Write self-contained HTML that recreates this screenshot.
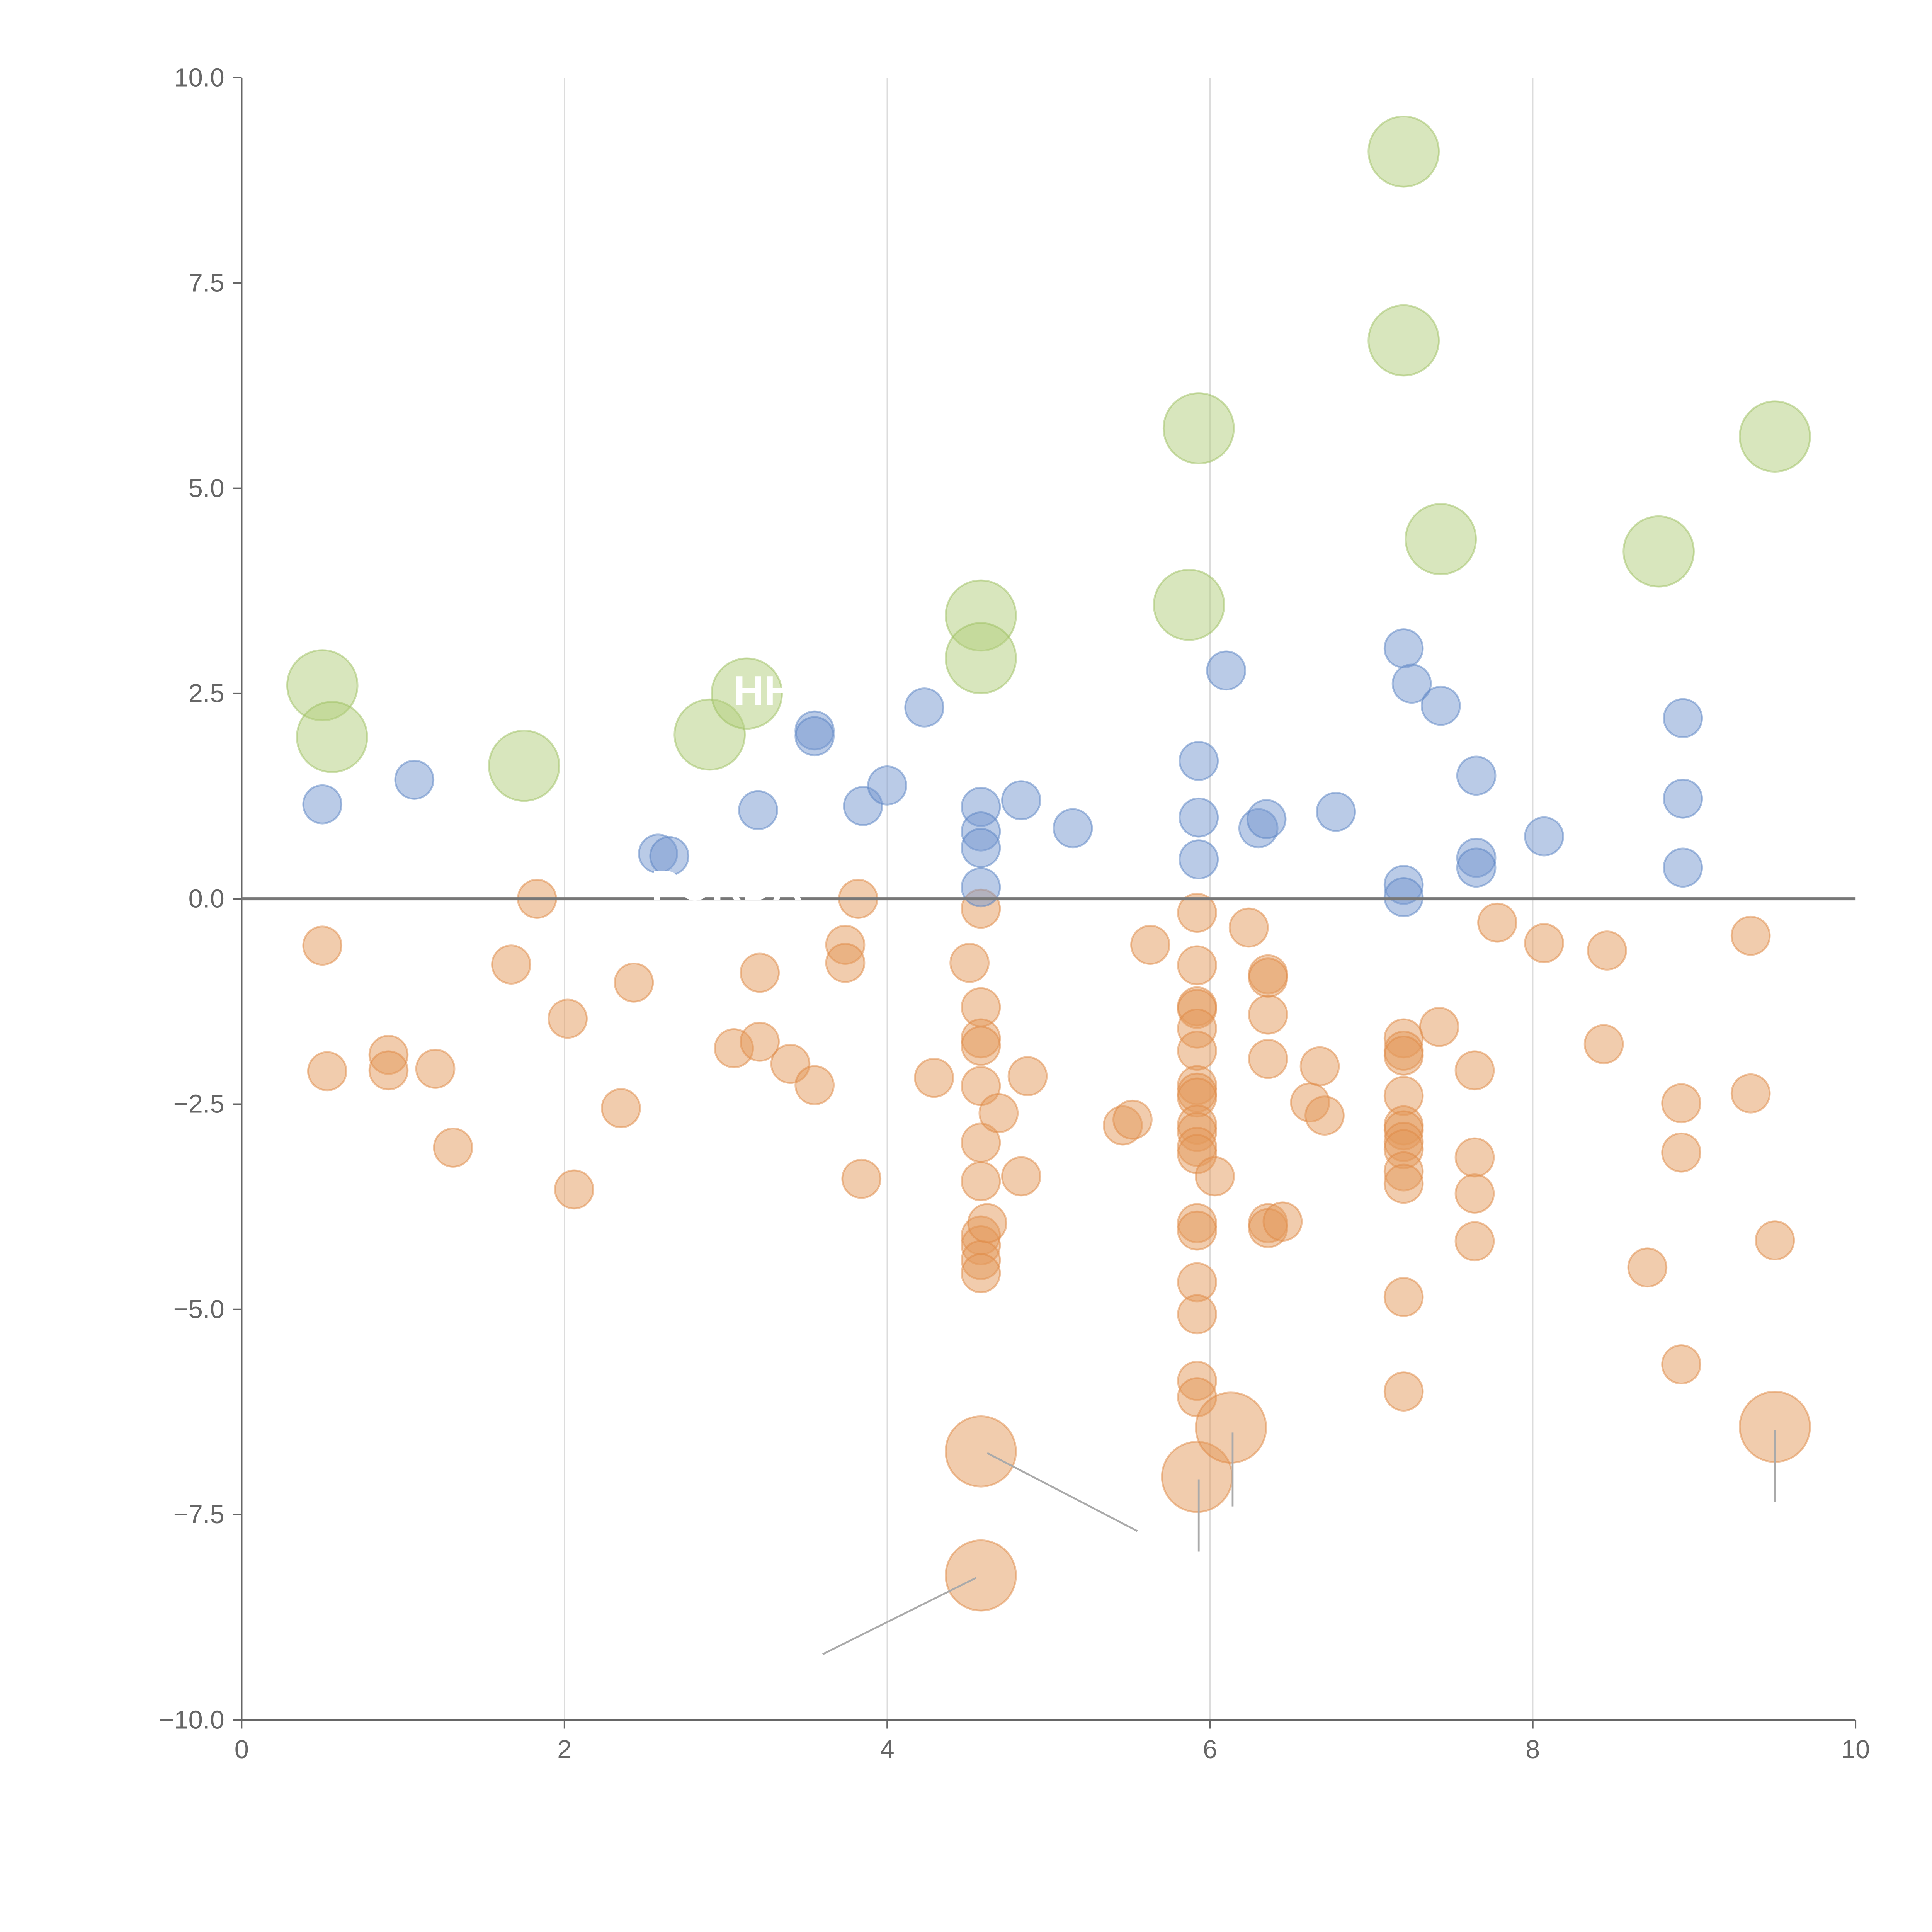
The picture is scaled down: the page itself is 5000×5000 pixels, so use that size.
<!DOCTYPE html>
<html><head><meta charset="utf-8"><style>
html,body{margin:0;padding:0;background:#fff}
svg{display:block}
text{font-family:"Liberation Sans",sans-serif}
</style></head><body>
<svg id="chart" width="5000" height="5000" viewBox="0 0 1567 1567" xmlns="http://www.w3.org/2000/svg">
<g id="grid"></g>
<g id="axes"></g>
<g id="marks"></g>
<g id="labels"></g>
</svg>
<script>
const xTicks=[0,2,4,6,8,10];
const yTicks=[-10,-7.5,-5,-2.5,0,2.5,5,7.5,10];
const yTickLabels=["\u221210.0","\u22127.5","\u22125.0","\u22122.5","0.0","2.5","5.0","7.5","10.0"];
const blueX=[0.5,1.07,2.58,2.65,3.2,3.55,3.55,3.85,4.0,4.23,4.58,4.58,4.58,4.58,4.83,5.15,5.93,5.93,5.93,6.1,6.3,6.35,6.78,7.2,7.25,7.2,7.2,7.43,7.65,7.65,7.65,8.07,8.93,8.93,8.93];
const blueY=[1.15,1.45,0.55,0.52,1.08,2.05,1.98,1.13,1.38,2.33,1.12,0.82,0.62,0.14,1.2,0.86,1.68,0.99,0.48,2.78,0.86,0.97,1.06,3.05,2.62,0.17,0.02,2.35,1.5,0.5,0.38,0.76,2.2,1.22,0.38];
const greenX=[0.5,0.56,1.75,2.9,3.13,4.58,4.58,5.87,5.93,7.2,7.2,7.43,8.78,9.5];
const greenY=[2.6,1.97,1.62,2.0,2.5,3.45,2.93,3.58,5.73,9.1,6.8,4.38,4.23,5.63];
const orangeX=[0.5,0.53,0.91,0.91,1.2,1.31,1.67,1.83,2.02,2.06,2.35,2.43,3.05,3.21,3.21,3.4,3.55,3.74,3.74,3.82,3.84,4.29,4.51,4.58,4.58,4.58,4.58,4.58,4.58,4.58,4.58,4.58,4.58,4.58,4.62,4.69,4.83,4.87,5.46,5.52,5.63,5.92,5.92,5.92,5.92,5.92,5.92,5.92,5.92,5.92,5.92,5.92,5.92,5.92,5.92,5.92,5.92,5.92,5.92,5.92,6.03,6.24,6.36,6.36,6.36,6.36,6.36,6.36,6.45,6.62,6.68,6.71,7.2,7.2,7.2,7.2,7.2,7.2,7.2,7.2,7.2,7.2,7.2,7.2,7.42,7.64,7.64,7.64,7.64,7.78,8.07,8.46,8.44,8.71,8.92,8.92,8.92,9.35,9.35,9.5];
const orangeY=[-0.57,-2.1,-1.9,-2.09,-2.07,-3.03,-0.8,0,-1.46,-3.54,-2.55,-1.02,-1.82,-0.9,-1.74,-2.01,-2.27,-0.56,-0.78,0,-3.41,-2.18,-0.78,-0.12,-1.32,-1.7,-1.79,-2.28,-2.97,-3.44,-4.1,-4.22,-4.4,-4.56,-3.95,-2.61,-3.38,-2.16,-2.76,-2.69,-0.56,-0.17,-0.81,-1.31,-1.34,-1.58,-1.85,-2.27,-2.36,-2.42,-2.75,-2.84,-3.02,-3.11,-3.95,-4.04,-4.67,-5.06,-5.87,-6.07,-3.38,-0.35,-0.92,-0.96,-1.41,-1.95,-3.95,-4.01,-3.93,-2.48,-2.04,-2.64,-1.7,-1.85,-1.91,-2.4,-2.76,-2.82,-2.96,-3.05,-3.32,-3.47,-4.85,-6.0,-1.56,-2.09,-3.15,-3.59,-4.17,-0.29,-0.54,-0.63,-1.77,-4.49,-2.49,-3.09,-5.67,-0.45,-2.37,-4.16];
const bigOrangeX=[4.58,4.58,5.92,6.13,9.5];
const bigOrangeY=[-6.73,-8.24,-7.04,-6.44,-6.43];
const leaderFromX=[4.62,4.55,5.93,6.14,9.5];
const leaderFromY=[-6.75,-8.27,-7.07,-6.5,-6.47];
const leaderToX=[5.55,3.6,5.93,6.14,9.5];
const leaderToY=[-7.7,-9.2,-7.95,-7.4,-7.35];

const X0=196,X1=1505,Y0=1395,Y1=63;
const sx=v=>X0+(v-0)/(10-0)*(X1-X0);
const sy=v=>Y0-(v+10)/20*(Y0-Y1);
const NS="http://www.w3.org/2000/svg";
function mk(tag,parent,attrs){const e=document.createElementNS(NS,tag);for(const k in attrs)e.setAttribute(k,attrs[k]);parent.appendChild(e);return e;}
const grid=document.getElementById('grid'),axes=document.getElementById('axes'),marks=document.getElementById('marks'),labels=document.getElementById('labels');

xTicks.forEach(t=>{
  if(t>0&&t<10){const g=mk('line',grid,{x1:sx(t),x2:sx(t),y1:Y1,y2:Y0,stroke:'#dcdcdc','stroke-width':1});
  
  }
  const tk=mk('line',axes,{x1:sx(t),x2:sx(t),y1:Y0,y2:Y0+7,stroke:'#666','stroke-width':1.2});
  
  
  const tx=mk('text',axes,{x:sx(t),y:Y0+31,'text-anchor':'middle','font-size':21,fill:'#666'});
  tx.textContent=t;
  
  
});
yTicks.forEach((t,i)=>{
  const tk=mk('line',axes,{x1:X0-7,x2:X0,y1:sy(t),y2:sy(t),stroke:'#666','stroke-width':1.2});
  
  
  const tx=mk('text',axes,{x:X0-14,y:sy(t)+7,'text-anchor':'end','font-size':21,fill:'#666'});
  tx.textContent=yTickLabels[i];
  
  
});
const ya=mk('line',axes,{x1:X0,x2:X0,y1:Y1,y2:Y0,stroke:'#666','stroke-width':1.3});


const xa=mk('line',axes,{x1:X0,x2:X1,y1:Y0,y2:Y0,stroke:'#666','stroke-width':1.3});



function dots(xs,ys,r,fill,stroke,name){
  xs.forEach((x,i)=>{
    const c=mk('circle',marks,{cx:sx(x),cy:sy(ys[i]),r:r,fill:fill,'fill-opacity':0.5,stroke:stroke,'stroke-opacity':0.5,'stroke-width':1.5});
    
    
  });
}
dots(orangeX,orangeY,15.5,'#e49a5c','#e08a45','orange-point');
dots(blueX,blueY,15.5,'#7598cf','#5a84c4','blue-point');
dots(greenX,greenY,28.5,'#b1cd7c','#9ebf62','green-bubble');
dots(bigOrangeX,bigOrangeY,28.5,'#e49a5c','#e08a45','orange-bubble');

const zl=mk('line',marks,{x1:X0,x2:X1,y1:sy(0),y2:sy(0),stroke:'#777','stroke-width':2.5});



leaderFromX.forEach((x,i)=>{
  const l=mk('line',labels,{x1:sx(x),y1:sy(leaderFromY[i]),x2:sx(leaderToX[i]),y2:sy(leaderToY[i]),stroke:'#aaa','stroke-width':1.5});
  
  
});
const t1=mk('text',labels,{x:595,y:572,'font-size':34,fill:'#fff','font-weight':'bold'});
t1.textContent='HH';


const t2=mk('text',labels,{x:528,y:730,'font-size':34,fill:'#fff','font-weight':'bold'});
t2.textContent='PORDA';


</script>
</body></html>
